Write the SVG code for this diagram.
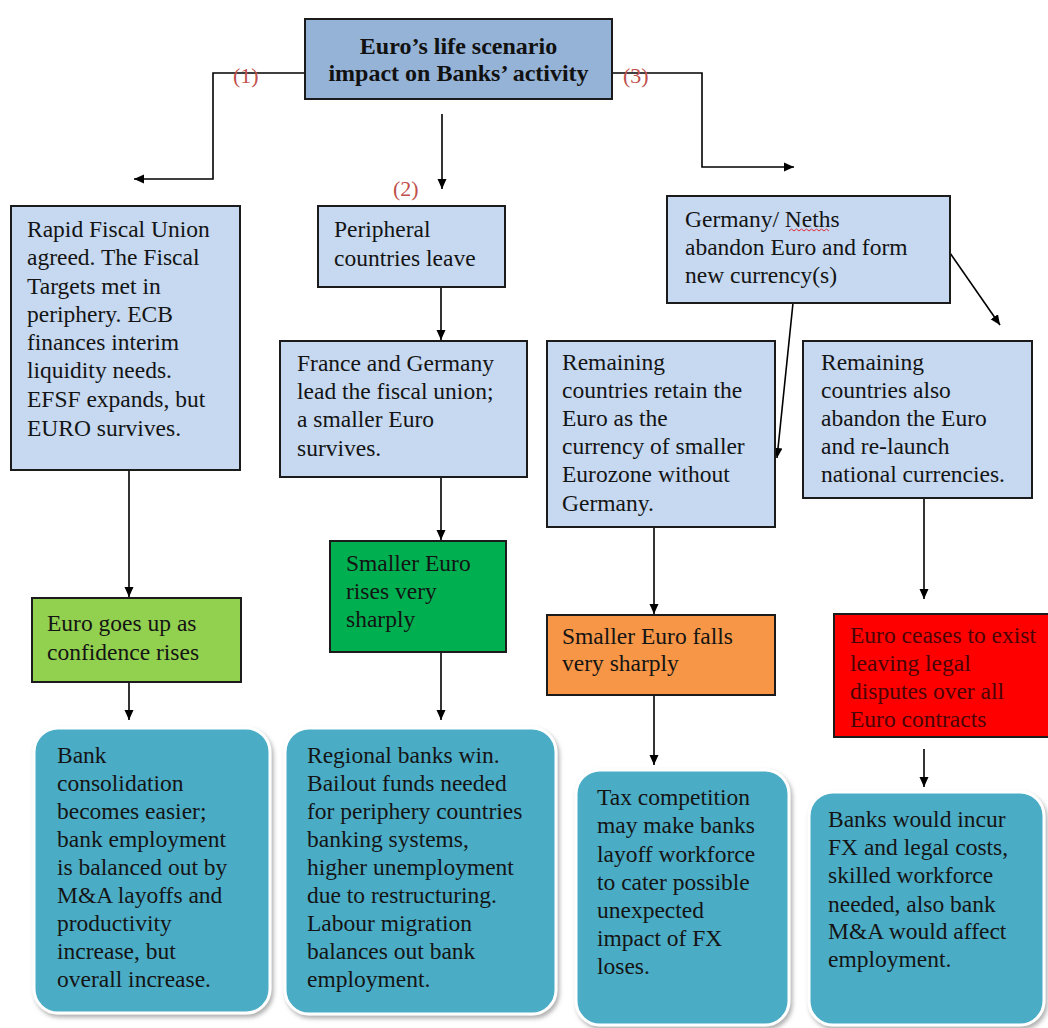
<svg xmlns="http://www.w3.org/2000/svg" width="1048" height="1028" viewBox="0 0 1048 1028">
  <style>
    .box { stroke: #1b1b1b; stroke-width: 2; }
    .light { fill: #c6d9f1; }
    .title-fill { fill: #95b3d7; }
    .txt { font-family: "Liberation Serif", "Times New Roman", serif; font-size: 23.5px; fill: #141414; }
    .title { font-family: "Liberation Serif", "Times New Roman", serif; font-size: 24px; font-weight: bold; fill: #111; text-anchor: middle; }
    .num { font-family: "Liberation Serif", "Times New Roman", serif; font-size: 22px; fill: #c0504d; }
    .dark-red { fill: #4a0404; }
    .teal { fill: #4bacc6; stroke: #ffffff; stroke-width: 3; filter: url(#shadow); }
    .conn { fill: none; stroke: #000; stroke-width: 1.6; }
  </style>
  <defs>
    <marker id="arrow" markerUnits="userSpaceOnUse" markerWidth="12" markerHeight="10" refX="10" refY="5" orient="auto">
      <path d="M0,0.5 L10,5 L0,9.5 z" fill="#000"/>
    </marker>
    <filter id="shadow" x="-10%" y="-10%" width="125%" height="125%">
      <feDropShadow dx="2" dy="3" stdDeviation="2" flood-color="#7a7a7a" flood-opacity="0.6"/>
    </filter>
  </defs>

  <rect width="1048" height="1028" fill="#ffffff"/>

  <!-- connectors -->
  <g id="connectors">
    <path class="conn" d="M305,73 H213 V179 H134" marker-end="url(#arrow)"/>
    <path class="conn" d="M442,114 V189" marker-end="url(#arrow)"/>
    <path class="conn" d="M612,73 H702 V167 H794" marker-end="url(#arrow)"/>
    <path class="conn" d="M441,287 V340" marker-end="url(#arrow)"/>
    <path class="conn" d="M793,303 L777,458" marker-end="url(#arrow)"/>
    <path class="conn" d="M950,253 L1000,325" marker-end="url(#arrow)"/>
    <path class="conn" d="M129,471 V597" marker-end="url(#arrow)"/>
    <path class="conn" d="M441,477 V540" marker-end="url(#arrow)"/>
    <path class="conn" d="M654,527 V614" marker-end="url(#arrow)"/>
    <path class="conn" d="M924,498 V599" marker-end="url(#arrow)"/>
    <path class="conn" d="M129,682 V720" marker-end="url(#arrow)"/>
    <path class="conn" d="M441,652 V720" marker-end="url(#arrow)"/>
    <path class="conn" d="M654,695 V765" marker-end="url(#arrow)"/>
    <path class="conn" d="M924,749 V787" marker-end="url(#arrow)"/>
    <text class="num" x="233" y="83">(1)</text>
    <text class="num" x="623" y="83">(3)</text>
    <text class="num" x="393" y="196">(2)</text>
  </g>

  <!-- root -->
  <g id="root">
    <rect class="box title-fill" x="305" y="19" width="307" height="80"/>
    <text class="title" x="458.5" y="54">Euro’s life scenario</text>
    <text class="title" x="458.5" y="81">impact on Banks’ activity</text>
  </g>

  <!-- scenario 1 -->
  <g id="fiscal-union">
    <rect class="box light" x="11" y="206" width="229" height="264"/>
    <text class="txt" x="27">
      <tspan x="27" y="237">Rapid Fiscal Union</tspan>
      <tspan x="27" y="265">agreed. The Fiscal</tspan>
      <tspan x="27" y="294">Targets met in</tspan>
      <tspan x="27" y="322">periphery. ECB</tspan>
      <tspan x="27" y="350">finances interim</tspan>
      <tspan x="27" y="378">liquidity needs.</tspan>
      <tspan x="27" y="407">EFSF expands, but</tspan>
      <tspan x="27" y="436">EURO survives.</tspan>
    </text>
  </g>

  <!-- scenario 2 -->
  <g id="peripheral-leave">
    <rect class="box light" x="318" y="206" width="187" height="81"/>
    <text class="txt">
      <tspan x="334" y="237">Peripheral</tspan>
      <tspan x="334" y="266">countries leave</tspan>
    </text>
  </g>

  <g id="france-germany">
    <rect class="box light" x="280" y="341" width="247" height="136"/>
    <text class="txt">
      <tspan x="297" y="371">France and Germany</tspan>
      <tspan x="297" y="399">lead the fiscal union;</tspan>
      <tspan x="297" y="427">a smaller Euro</tspan>
      <tspan x="297" y="456">survives.</tspan>
    </text>
  </g>

  <!-- scenario 3 -->
  <g id="germany-neths">
    <rect class="box light" x="667" y="196" width="283" height="107"/>
    <text class="txt">
      <tspan x="685" y="227">Germany/ Neths</tspan>
      <tspan x="685" y="255">abandon Euro and form</tspan>
      <tspan x="685" y="283">new currency(s)</tspan>
    </text>
    <path d="M789,231 l2.5,-2 l2.5,2 l2.5,-2 l2.5,2 l2.5,-2 l2.5,2 l2.5,-2 l2.5,2 l2.5,-2 l2.5,2 l2.5,-2 l2.5,2 l2.5,-2 l2.5,2 l2.5,-2 l2.5,2" fill="none" stroke="#e0303a" stroke-width="1"/>
  </g>

  <g id="remaining-retain">
    <rect class="box light" x="547" y="341" width="228" height="186"/>
    <text class="txt">
      <tspan x="562" y="370">Remaining</tspan>
      <tspan x="562" y="398">countries retain the</tspan>
      <tspan x="562" y="426">Euro as the</tspan>
      <tspan x="562" y="454">currency of smaller</tspan>
      <tspan x="562" y="482">Eurozone without</tspan>
      <tspan x="562" y="511">Germany.</tspan>
    </text>
  </g>

  <g id="remaining-abandon">
    <rect class="box light" x="803" y="341" width="229" height="157"/>
    <text class="txt">
      <tspan x="821" y="370">Remaining</tspan>
      <tspan x="821" y="398">countries also</tspan>
      <tspan x="821" y="426">abandon the Euro</tspan>
      <tspan x="821" y="454">and re-launch</tspan>
      <tspan x="821" y="482">national currencies.</tspan>
    </text>
  </g>

  <!-- currency outcomes -->
  <g id="euro-up">
    <rect class="box" fill="#92d050" x="32" y="598" width="209" height="84"/>
    <text class="txt">
      <tspan x="47" y="631">Euro goes up as</tspan>
      <tspan x="47" y="660">confidence rises</tspan>
    </text>
  </g>

  <g id="euro-rises">
    <rect class="box" fill="#00b050" x="330" y="541" width="176" height="111"/>
    <text class="txt">
      <tspan x="346" y="571">Smaller Euro</tspan>
      <tspan x="346" y="599">rises very</tspan>
      <tspan x="346" y="627">sharply</tspan>
    </text>
  </g>

  <g id="euro-falls">
    <rect class="box" fill="#f79646" x="547" y="615" width="228" height="80"/>
    <text class="txt">
      <tspan x="562" y="644">Smaller Euro falls</tspan>
      <tspan x="562" y="671">very sharply</tspan>
    </text>
  </g>

  <g id="euro-ceases">
    <rect class="box" fill="#ff0000" x="834" y="614" width="216" height="123"/>
    <text class="txt dark-red">
      <tspan x="850" y="643">Euro ceases to exist</tspan>
      <tspan x="850" y="671">leaving legal</tspan>
      <tspan x="850" y="699">disputes over all</tspan>
      <tspan x="850" y="727">Euro contracts</tspan>
    </text>
  </g>

  <!-- banking impact -->
  <g id="impact-1">
    <rect class="teal" x="34" y="728" width="236" height="285" rx="24"/>
    <text class="txt">
      <tspan x="57" y="763">Bank</tspan>
      <tspan x="57" y="791">consolidation</tspan>
      <tspan x="57" y="819">becomes easier;</tspan>
      <tspan x="57" y="847">bank employment</tspan>
      <tspan x="57" y="875">is balanced out by</tspan>
      <tspan x="57" y="903">M&amp;A layoffs and</tspan>
      <tspan x="57" y="931">productivity</tspan>
      <tspan x="57" y="959">increase, but</tspan>
      <tspan x="57" y="987">overall increase.</tspan>
    </text>
  </g>

  <g id="impact-2">
    <rect class="teal" x="285" y="728" width="271" height="286" rx="24"/>
    <text class="txt">
      <tspan x="307" y="763">Regional banks win.</tspan>
      <tspan x="307" y="791">Bailout funds needed</tspan>
      <tspan x="307" y="819">for periphery countries</tspan>
      <tspan x="307" y="847">banking systems,</tspan>
      <tspan x="307" y="875">higher unemployment</tspan>
      <tspan x="307" y="903">due to restructuring.</tspan>
      <tspan x="307" y="931">Labour migration</tspan>
      <tspan x="307" y="959">balances out bank</tspan>
      <tspan x="307" y="987">employment.</tspan>
    </text>
  </g>

  <g id="impact-3">
    <rect class="teal" x="576" y="770" width="213" height="255" rx="24"/>
    <text class="txt">
      <tspan x="597" y="805">Tax competition</tspan>
      <tspan x="597" y="833">may make banks</tspan>
      <tspan x="597" y="862">layoff workforce</tspan>
      <tspan x="597" y="890">to cater possible</tspan>
      <tspan x="597" y="918">unexpected</tspan>
      <tspan x="597" y="946">impact of FX</tspan>
      <tspan x="597" y="974">loses.</tspan>
    </text>
  </g>

  <g id="impact-4">
    <rect class="teal" x="809" y="792" width="235" height="233" rx="24"/>
    <text class="txt">
      <tspan x="828" y="827">Banks would incur</tspan>
      <tspan x="828" y="855">FX and legal costs,</tspan>
      <tspan x="828" y="883">skilled workforce</tspan>
      <tspan x="828" y="912">needed, also bank</tspan>
      <tspan x="828" y="939">M&amp;A would affect</tspan>
      <tspan x="828" y="967">employment.</tspan>
    </text>
  </g>
</svg>
